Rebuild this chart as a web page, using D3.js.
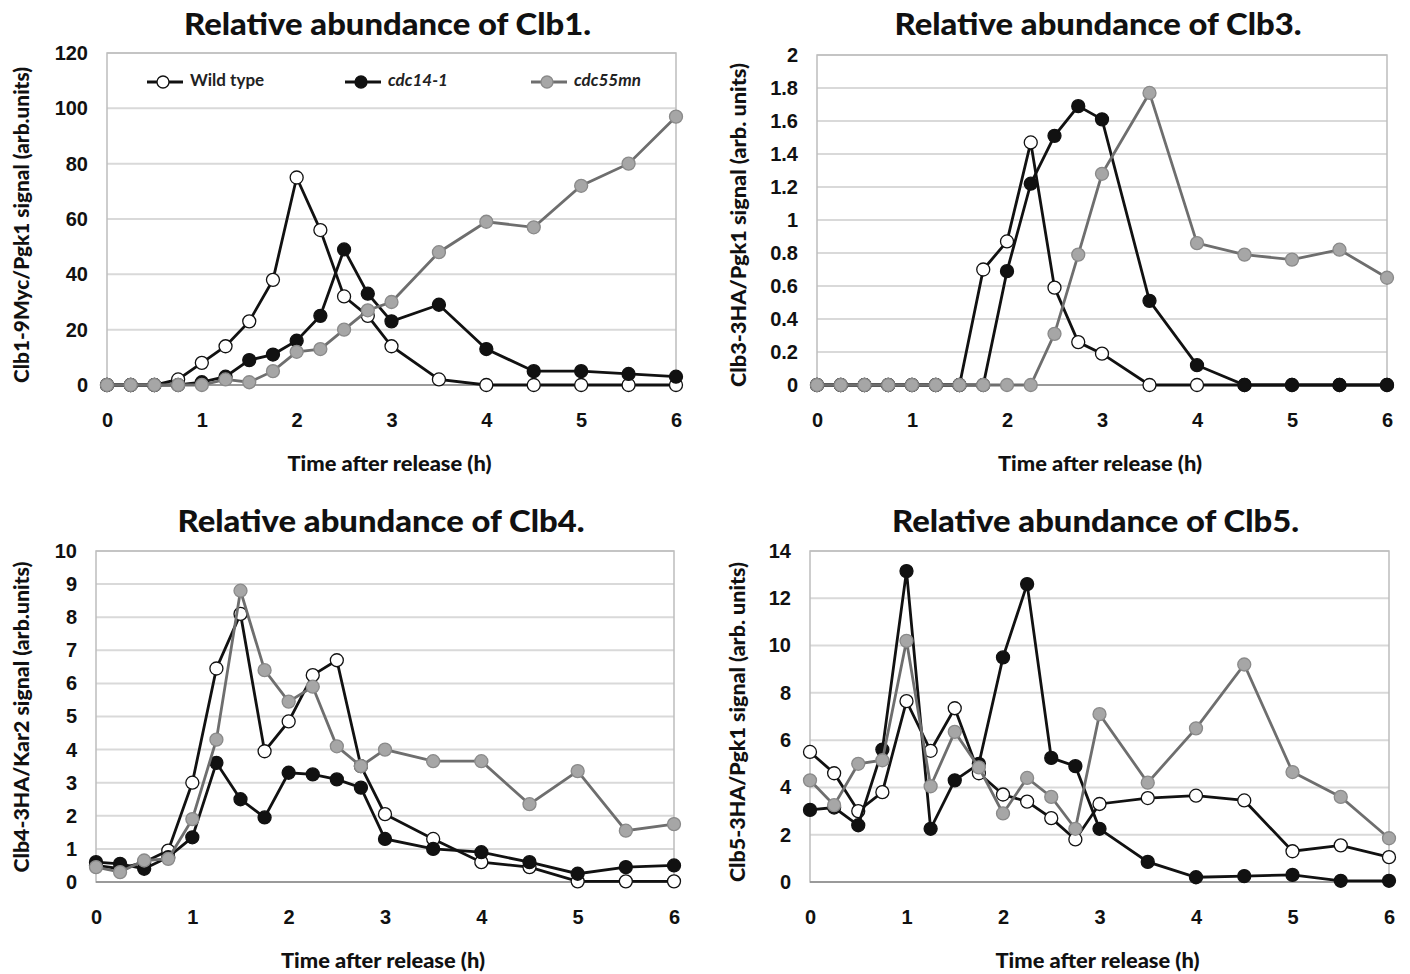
<!DOCTYPE html>
<html lang="en">
<head>
<meta charset="utf-8">
<title>Relative abundance of Clb proteins</title>
<script src="https://cdn.jsdelivr.net/npm/d3@7"></script>
<style>
  body { margin: 0; background: #fff; }
  svg { font-family: Lato, "Open Sans", sans-serif; }
</style>
</head>
<body>
<script>

// ---- data ----
var hours = [0, 0.25, 0.5, 0.75, 1, 1.25, 1.5, 1.75, 2, 2.25, 2.5, 2.75, 3, 3.5, 4, 4.5, 5, 5.5, 6];
var seriesNames = ["Wild type", "cdc14-1", "cdc55mn"];
var xTicks = [0, 1, 2, 3, 4, 5, 6];

// Clb1
var clb1Wt    = [0, 0, 0, 2, 8, 14, 23, 38, 75, 56, 32, 25, 14, 2, 0, 0, 0, 0, 0];
var clb1Cdc14 = [0, 0, 0, 0, 1, 3, 9, 11, 16, 25, 49, 33, 23, 29, 13, 5, 5, 4, 3];
var clb1Cdc55 = [0, 0, 0, 0, 0, 2, 1, 5, 12, 13, 20, 27, 30, 48, 59, 57, 72, 80, 97];
var clb1Ticks = [0, 20, 40, 60, 80, 100, 120];

// Clb3
var clb3Wt    = [0, 0, 0, 0, 0, 0, 0, 0.7, 0.87, 1.47, 0.59, 0.26, 0.19, 0, 0, 0, 0, 0, 0];
var clb3Cdc14 = [0, 0, 0, 0, 0, 0, 0, 0, 0.69, 1.22, 1.51, 1.69, 1.61, 0.51, 0.12, 0, 0, 0, 0];
var clb3Cdc55 = [0, 0, 0, 0, 0, 0, 0, 0, 0, 0, 0.31, 0.79, 1.28, 1.77, 0.86, 0.79, 0.76, 0.82, 0.65];
var clb3Ticks = [0, 0.2, 0.4, 0.6, 0.8, 1, 1.2, 1.4, 1.6, 1.8, 2];

// Clb4
var clb4Wt    = [0.5, 0.4, 0.6, 0.95, 3.0, 6.45, 8.1, 3.95, 4.85, 6.25, 6.7, 3.5, 2.05, 1.3, 0.6, 0.45, 0.02, 0.02, 0.02];
var clb4Cdc14 = [0.6, 0.55, 0.4, 0.75, 1.35, 3.6, 2.5, 1.95, 3.3, 3.25, 3.1, 2.85, 1.3, 1.0, 0.9, 0.6, 0.25, 0.45, 0.5];
var clb4Cdc55 = [0.45, 0.3, 0.65, 0.7, 1.9, 4.3, 8.8, 6.4, 5.45, 5.9, 4.1, 3.5, 4.0, 3.65, 3.65, 2.35, 3.35, 1.55, 1.75];
var clb4Ticks = [0, 1, 2, 3, 4, 5, 6, 7, 8, 9, 10];

// Clb5
var clb5Wt    = [5.5, 4.6, 3.0, 3.8, 7.65, 5.55, 7.35, 4.6, 3.7, 3.4, 2.7, 1.8, 3.3, 3.55, 3.65, 3.45, 1.3, 1.55, 1.05];
var clb5Cdc14 = [3.05, 3.15, 2.4, 5.6, 13.15, 2.25, 4.3, 5.0, 9.5, 12.6, 5.25, 4.9, 2.25, 0.85, 0.2, 0.25, 0.3, 0.05, 0.05];
var clb5Cdc55 = [4.3, 3.25, 5.0, 5.15, 10.2, 4.05, 6.35, 4.85, 2.9, 4.4, 3.6, 2.25, 7.1, 4.2, 6.5, 9.2, 4.65, 3.6, 1.85];
var clb5Ticks = [0, 2, 4, 6, 8, 10, 12, 14];

// ---- layout ----
var w = 1410, h = 974;

var panels = [
  { title: "Relative abundance of Clb1.", ylabel: "Clb1-9Myc/Pgk1 signal (arb.units)",
    series: [clb1Wt, clb1Cdc14, clb1Cdc55], ticks: clb1Ticks,
    left: 107, right: 676, top: 53, bottom: 385, titleY: 27,
    ylabelX: 24, ylabelY: 225, ylabelLen: 316, legend: true },
  { title: "Relative abundance of Clb3.", ylabel: "Clb3-3HA/Pgk1 signal (arb. units)",
    series: [clb3Wt, clb3Cdc14, clb3Cdc55], ticks: clb3Ticks,
    left: 817, right: 1387, top: 55, bottom: 385, titleY: 27,
    ylabelX: 741, ylabelY: 225, ylabelLen: 324 },
  { title: "Relative abundance of Clb4.", ylabel: "Clb4-3HA/Kar2 signal (arb.units)",
    series: [clb4Wt, clb4Cdc14, clb4Cdc55], ticks: clb4Ticks,
    left: 96, right: 674, top: 551, bottom: 882, titleY: 524,
    ylabelX: 24, ylabelY: 717, ylabelLen: 311 },
  { title: "Relative abundance of Clb5.", ylabel: "Clb5-3HA/Pgk1 signal (arb. units)",
    series: [clb5Wt, clb5Cdc14, clb5Cdc55], ticks: clb5Ticks,
    left: 810, right: 1389, top: 551, bottom: 882, titleY: 524,
    ylabelX: 740, ylabelY: 722, ylabelLen: 320 }
];

// line / marker styles per series
var styles = [
  { line: "#111", fill: "#fff",    stroke: "#111" },
  { line: "#111", fill: "#111",    stroke: "#111" },
  { line: "#6e6e6e", fill: "#a6a6a6", stroke: "#8a8a8a" }
];

var svg = d3.select("body")
  .append("svg")
  .attr("width", w)
  .attr("height", h);

panels.forEach(function(p) {
  var g = svg.append("g");

  var x = d3.scaleLinear().domain([0, 6]).range([p.left, p.right]);
  var ymax = p.ticks[p.ticks.length - 1];
  var y = d3.scaleLinear().domain([0, ymax]).range([p.bottom, p.top]);

  // gridlines
  g.append("g")
    .selectAll("line")
    .data(p.ticks.slice(1))
    .enter()
    .append("line")
    .attr("x1", p.left)
    .attr("x2", p.right)
    .attr("y1", function(d) { return y(d); })
    .attr("y2", function(d) { return y(d); })
    .attr("stroke", "#d9d9d9")
    .attr("stroke-width", 2);

  // plot area frame
  g.append("rect")
    .attr("x", p.left)
    .attr("y", p.top)
    .attr("width", p.right - p.left)
    .attr("height", p.bottom - p.top)
    .attr("fill", "none")
    .attr("stroke", "#bdbdbd")
    .attr("stroke-width", 1.5);

  g.append("line")
    .attr("x1", p.left).attr("x2", p.right)
    .attr("y1", p.bottom).attr("y2", p.bottom)
    .attr("stroke", "#888")
    .attr("stroke-width", 1.5);

  // axes
  var yAxis = g.append("g")
    .attr("transform", "translate(" + (p.left - 11) + ",0)")
    .call(d3.axisLeft(y).tickValues(p.ticks).tickSize(0).tickPadding(8)
      .tickFormat(function(d) { return String(+d.toFixed(1)); }));
  var xAxis = g.append("g")
    .attr("transform", "translate(0," + (p.bottom + 20) + ")")
    .call(d3.axisBottom(x).tickValues(xTicks).tickSize(0).tickPadding(8)
      .tickFormat(d3.format("d")));

  [yAxis, xAxis].forEach(function(a) {
    a.select(".domain").remove();
    a.selectAll("text")
      .attr("font-size", 20)
      .attr("font-weight", "bold")
      .attr("fill", "#111");
  });

  // title
  g.append("text")
    .attr("x", (p.left + p.right) / 2 - 4)
    .attr("y", p.titleY)
    .attr("text-anchor", "middle")
    .attr("dominant-baseline", "middle")
    .attr("font-size", 30)
    .attr("font-weight", "900")
    .attr("textLength", 407)
    .attr("lengthAdjust", "spacingAndGlyphs")
    .attr("fill", "#111")
    .text(p.title);

  // x axis title
  g.append("text")
    .attr("x", (p.left + p.right) / 2 - 2)
    .attr("y", p.bottom + 81)
    .attr("text-anchor", "middle")
    .attr("dominant-baseline", "middle")
    .attr("font-size", 20)
    .attr("font-weight", "900")
    .attr("textLength", 204)
    .attr("lengthAdjust", "spacingAndGlyphs")
    .attr("fill", "#111")
    .text("Time after release (h)");

  // y axis title
  g.append("text")
    .attr("transform", "translate(" + p.ylabelX + "," + p.ylabelY + ") rotate(-90)")
    .attr("text-anchor", "middle")
    .attr("dominant-baseline", "middle")
    .attr("font-size", 20)
    .attr("font-weight", "900")
    .attr("textLength", p.ylabelLen)
    .attr("lengthAdjust", "spacingAndGlyphs")
    .attr("fill", "#111")
    .text(p.ylabel);

  // series
  var line = d3.line()
    .x(function(d, i) { return x(hours[i]); })
    .y(function(d) { return y(d); });

  p.series.forEach(function(vals, si) {
    var st = styles[si];
    var sg = g.append("g");
    sg.append("path")
      .datum(vals)
      .attr("d", line)
      .attr("fill", "none")
      .attr("stroke", st.line)
      .attr("stroke-width", 2.8);
    sg.selectAll("circle")
      .data(vals)
      .enter()
      .append("circle")
      .attr("cx", function(d, i) { return x(hours[i]); })
      .attr("cy", function(d) { return y(d); })
      .attr("r", 6.5)
      .attr("fill", st.fill)
      .attr("stroke", st.stroke)
      .attr("stroke-width", 1.3);
  });

  // legend
  if (p.legend) {
    var legendX = [147, 345, 531];
    var lg = g.append("g");
    seriesNames.forEach(function(name, si) {
      var st = styles[si];
      var lx = legendX[si], ly = 82;
      lg.append("line")
        .attr("x1", lx).attr("x2", lx + 36)
        .attr("y1", ly).attr("y2", ly)
        .attr("stroke", st.line)
        .attr("stroke-width", 2.8);
      lg.append("circle")
        .attr("cx", lx + 16).attr("cy", ly)
        .attr("r", 6)
        .attr("fill", st.fill)
        .attr("stroke", st.stroke)
        .attr("stroke-width", 1.3);
      lg.append("text")
        .attr("x", lx + 43)
        .attr("y", ly)
        .attr("dominant-baseline", "middle")
        .attr("font-size", 17)
        .attr("font-weight", "bold")
        .attr("font-style", si === 0 ? "normal" : "italic")
        .attr("fill", "#222")
        .text(name);
    });
  }
});
</script>
</body>
</html>
